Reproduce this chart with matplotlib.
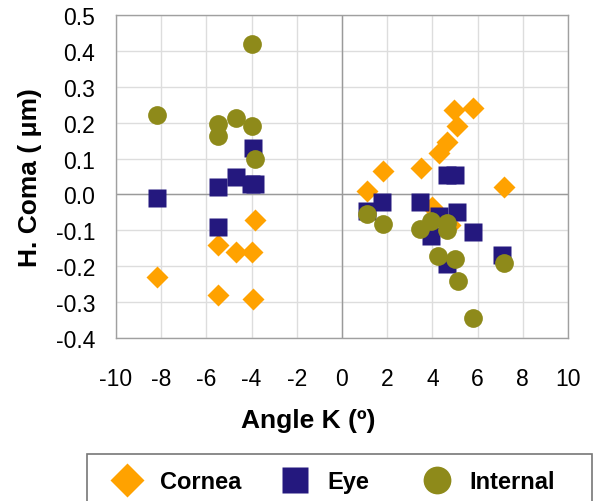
import matplotlib
matplotlib.use("Agg")
import matplotlib.pyplot as plt
from matplotlib.patches import Rectangle
from matplotlib.lines import Line2D

plt.rcParams['font.family'] = ['Liberation Sans', 'DejaVu Sans']

# Data
cornea_x = [-8.2, -5.5, -5.5, -4.7, -4.0, -3.85, -3.95,
            1.1, 1.8, 3.5, 4.0, 4.3, 4.65, 4.95, 5.1, 5.8, 7.15, 4.8]
cornea_y = [-0.23, -0.28, -0.14, -0.16, -0.16, -0.07, -0.29,
            0.01, 0.065, 0.075, -0.035, 0.115, 0.145, 0.235, 0.19, 0.24, 0.02, -0.085]

eye_x = [-8.2, -5.5, -5.5, -4.7, -4.03, -3.87, -3.95,
         1.1, 1.75, 3.45, 4.3, 3.95, 4.65, 5.0, 5.1, 5.8, 7.1, 4.65]
eye_y = [-0.01, 0.02, -0.09, 0.05, 0.03, 0.03, 0.13,
         -0.045, -0.02, -0.02, -0.06, -0.115, 0.055, 0.055, -0.05, -0.105, -0.17, -0.195]

internal_x = [-8.2, -5.5, -5.5, -4.7, -4.0, -3.85, -4.0,
              1.1, 1.8, 3.45, 3.95, 4.65, 4.65, 4.25, 5.0, 5.15, 5.8, 7.15]
internal_y = [0.22, 0.195, 0.163, 0.214, 0.19, 0.10, 0.42,
              -0.055, -0.082, -0.095, -0.073, -0.08, -0.1, -0.172, -0.179, -0.242, -0.345, -0.19]

xticks = [-10, -8, -6, -4, -2, 0, 2, 4, 6, 8, 10]
yticks = [-0.4, -0.3, -0.2, -0.1, 0.0, 0.1, 0.2, 0.3, 0.4, 0.5]

c_cornea = '#FFA200'
c_eye = '#24187E'
c_internal = '#8E8A1A'

W, H = 594, 502
fig = plt.figure(figsize=(W / 100, H / 100), dpi=100)
ax = fig.add_axes([116 / W, 1 - 339 / H, (568 - 116) / W, (339 - 16) / H])

ax.set_xlim(-10, 10)
ax.set_ylim(-0.4, 0.5)
ax.set_xticks(xticks)
ax.set_yticks(yticks)
ax.set_xticklabels([str(t) for t in xticks])
ax.set_yticklabels([f"{t:.1f}" for t in yticks])
ax.grid(True, color='#dddddd', linewidth=1.0, zorder=0)
ax.set_axisbelow(True)
ax.axhline(0, color='#9a9a9a', linewidth=1.0, zorder=1)
ax.axvline(0, color='#9a9a9a', linewidth=1.0, zorder=1)
for s in ax.spines.values():
    s.set_color('#a0a0a0')
    s.set_linewidth(1.0)
ax.tick_params(length=0, labelsize=16.5)
ax.tick_params(axis='y', pad=15)
ax.tick_params(axis='x', pad=21)

ax.plot(cornea_x, cornea_y, linestyle='none', marker='D', ms=11.5,
        color=c_cornea, mec='none', zorder=3)
ax.plot(eye_x, eye_y, linestyle='none', marker='s', ms=13,
        color=c_eye, mec='none', zorder=4)
ax.plot(internal_x, internal_y, linestyle='none', marker='o', ms=13.5,
        color=c_internal, mec='none', zorder=5)

ax.set_xlabel('Angle K (º)', fontsize=19, fontweight='bold')
ax.set_ylabel('H. Coma ( μm)', fontsize=19, fontweight='bold')
ax.xaxis.set_label_coords((308 - 116) / (568 - 116), -(421 - 339) / (339 - 16), transform=ax.transAxes)
ax.xaxis.label.set_verticalalignment('center')
ax.yaxis.set_label_coords(-(116 - 30) / (568 - 116), 0.5, transform=ax.transAxes)
ax.yaxis.label.set_verticalalignment('center')

# Legend box
fig.patches.append(Rectangle((87 / W, -0.05), (592 - 87) / W, 0.05 + 1 - 455 / H,
                             transform=fig.transFigure, facecolor='white',
                             edgecolor='#777777', linewidth=1.2))

items = [
    ('Cornea', 'D', c_cornea, 17, 127),
    ('Eye', 's', c_eye, 19, 295),
    ('Internal', 'o', c_internal, 20, 437),
]
for label, m, col, ms, cx in items:
    h = Line2D([], [], linestyle='none', marker=m, ms=ms, color=col, mec='none')
    fig.legend(handles=[h], labels=[label], loc='center left',
               bbox_to_anchor=((cx - 17) / W, 1 - 483 / H),
               frameon=False, borderpad=0, borderaxespad=0,
               handlelength=1.4, handletextpad=0.7,
               prop={'size': 17, 'weight': 'bold'})

fig.savefig('out.png', dpi=100)
